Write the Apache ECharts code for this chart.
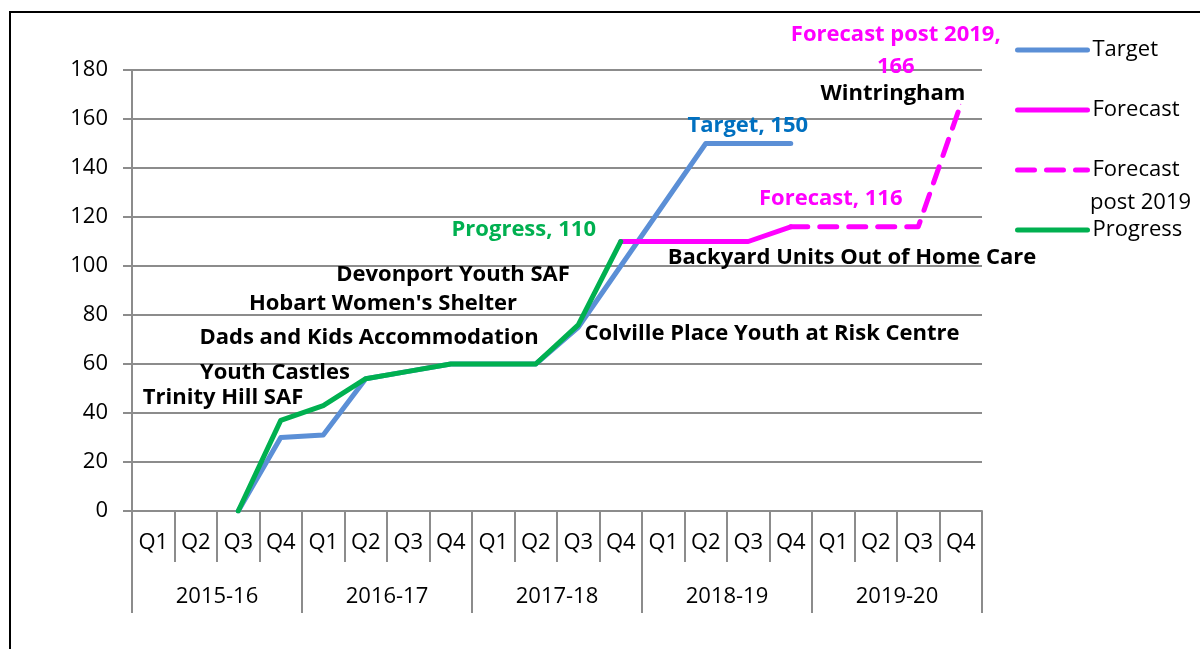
<!DOCTYPE html>
<html><head><meta charset="utf-8">
<script src="https://cdn.jsdelivr.net/npm/echarts@6/dist/echarts.min.js"></script>
<style>html,body{margin:0;padding:0;background:#fff}#c{width:1200px;height:649px}</style>
</head><body><div id="c"></div>
<script>
// ---------- data ----------
const quarters = ['Q1','Q2','Q3','Q4','Q1','Q2','Q3','Q4','Q1','Q2','Q3','Q4','Q1','Q2','Q3','Q4','Q1','Q2','Q3','Q4'];
const years = ['2015-16','2016-17','2017-18','2018-19','2019-20'];
const yMin = 0, yMax = 180, yStep = 20;
const target   = [null,null,0,30,31,54,57,60,60,60,75,100,125,150,150,150,null,null,null,null];
const forecast = [null,null,null,null,null,null,null,null,null,null,null,110,110,110,110,116,null,null,null,null];
const forecastPost = [null,null,null,null,null,null,null,null,null,null,null,null,null,null,null,116,116,116,116,166];
const progress = [null,null,0,37,43,54,57,60,60,60,76,110,null,null,null,null,null,null,null,null];
const projects = ['Trinity Hill SAF','Youth Castles','Dads and Kids Accommodation',"Hobart Women's Shelter",'Devonport Youth SAF','Colville Place Youth at Risk Centre','Backyard Units Out of Home Care','Wintringham'];

// ---------- layout ----------
const FONT = 'Open Sans';
const projectPos = [[223,398],[275,373],[369,338],[383,304],[453,275],[772,334],[852,258],[893,94]];
const GRAY = '#8c8c8c';

function withLabel(arr, idx, label) {
  return arr.map((v, i) => i === idx ? { value: v, label: Object.assign({ show: true, position: 'inside', fontFamily: FONT, fontWeight: 'bold', fontSize: 22, align: 'center', verticalAlign: 'middle' }, label) } : v);
}

const chart = echarts.init(document.getElementById('c'));
const lineBase = { type: 'line', symbol: 'circle', symbolSize: 1, showSymbol: true, connectNulls: false, animation: false, emphasis: { disabled: true }, z: 3 };

chart.setOption({
  animation: false,
  grid: { left: 132, right: 218, top: 70, bottom: 138 },
  legend: {
    orient: 'vertical', left: 1015, top: 38, padding: 0, itemGap: 36,
    itemWidth: 70, itemHeight: 5,
    itemStyle: { opacity: 0 },
    lineStyle: { width: 5, cap: 'round' },
    textStyle: { fontFamily: FONT, fontSize: 22, color: '#000', lineHeight: 24 },
    formatter: n => n === 'Forecast post 2019' ? 'Forecast' : n,
    data: ['Target','Forecast','Forecast post 2019','Progress']
  },
  xAxis: [
    { type: 'category', data: quarters, boundaryGap: true, position: 'bottom',
      axisLine: { lineStyle: { color: GRAY, width: 2 } },
      axisTick: { show: true, interval: 0, length: 51, lineStyle: { color: GRAY, width: 2 } },
      axisLabel: { interval: 0, margin: 21, fontFamily: FONT, fontSize: 22, color: '#000' },
      splitLine: { show: false } },
    { type: 'category', data: years, boundaryGap: true, position: 'bottom',
      axisLine: { show: false },
      axisTick: { show: true, interval: 0, length: 102, lineStyle: { color: GRAY, width: 2 } },
      axisLabel: { interval: 0, margin: 75, fontFamily: FONT, fontSize: 22, color: '#000' },
      splitLine: { show: false } }
  ],
  yAxis: {
    type: 'value', min: yMin, max: yMax, interval: yStep,
    axisLine: { show: true, lineStyle: { color: GRAY, width: 2 } },
    axisTick: { show: true, length: 9, lineStyle: { color: GRAY, width: 2 } },
    axisLabel: { margin: 24, fontFamily: FONT, fontSize: 22, color: '#000' },
    splitLine: { lineStyle: { color: GRAY, width: 2 } }
  },
  series: [
    Object.assign({}, lineBase, { name: 'Target', data: withLabel(target, 15, { formatter: '{a}, {c}', color: '#0070C0', offset: [-43, -18] }),
      itemStyle: { color: '#5B8FD6' }, lineStyle: { color: '#5B8FD6', width: 5, cap: 'round', join: 'round' } }),
    Object.assign({}, lineBase, { name: 'Forecast', data: withLabel(forecast, 15, { formatter: '{a}, {c}', color: '#FF00FF', offset: [40, -28] }),
      itemStyle: { color: '#FF00FF' }, lineStyle: { color: '#FF00FF', width: 5, cap: 'round', join: 'round' } }),
    Object.assign({}, lineBase, { name: 'Forecast post 2019', data: withLabel(forecastPost, 19, { formatter: '{a},\n{c}', color: '#FF00FF', lineHeight: 32, offset: [-65, -54] }),
      itemStyle: { color: '#FF00FF' }, lineStyle: { color: '#FF00FF', width: 5, type: [17, 12], cap: 'round', join: 'round' } }),
    Object.assign({}, lineBase, { name: 'Progress', data: withLabel(progress, 11, { formatter: '{a}, {c}', color: '#00B050', offset: [-97, -12] }),
      itemStyle: { color: '#00B050' }, lineStyle: { color: '#00B050', width: 5, cap: 'round', join: 'round' }, z: 4 })
  ],
  graphic: [
    { type: 'rect', silent: true, shape: { x: 10, y: 12, width: 1400, height: 900 }, style: { fill: null, stroke: '#000', lineWidth: 2 }, z: 0 },
    { type: 'text', silent: true, x: 1090, y: 203, style: { text: 'post 2019', font: '22px ' + FONT, fill: '#000', textAlign: 'left', textVerticalAlign: 'middle' } }
  ].concat(projects.map((t, i) => ({
    type: 'text', silent: true, x: projectPos[i][0], y: projectPos[i][1], z: 10,
    style: { text: t, font: 'bold 22px ' + FONT, fill: '#000', textAlign: 'center', textVerticalAlign: 'middle' }
  })))
});
</script></body></html>
